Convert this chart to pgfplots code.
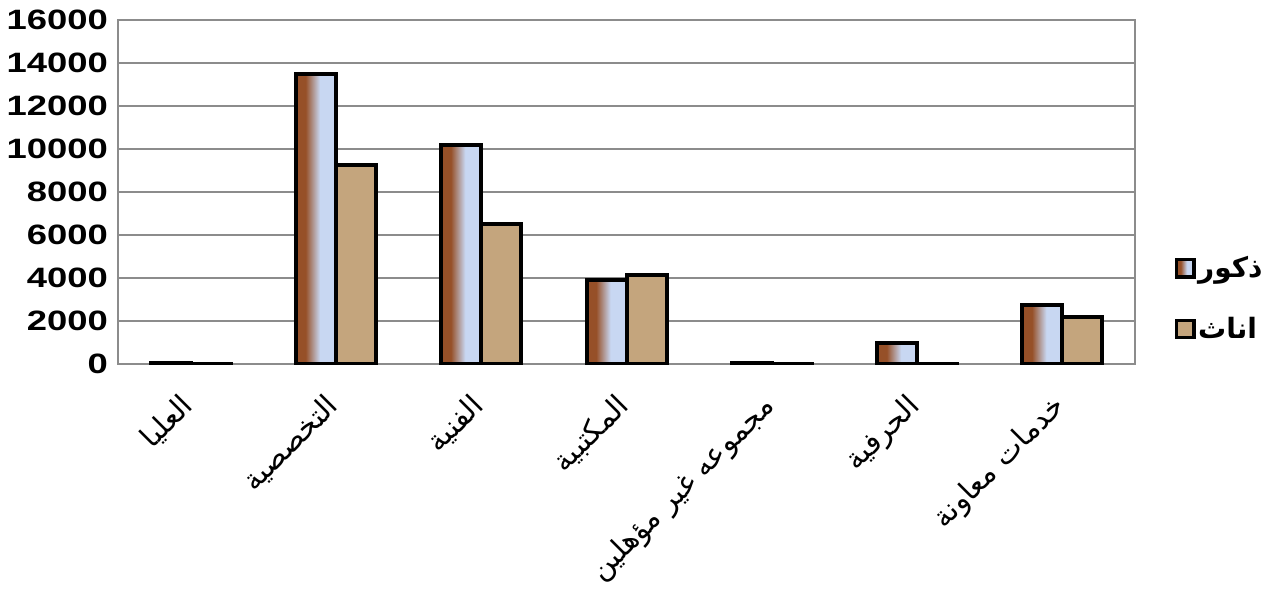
\documentclass[border=0pt]{standalone}
\usepackage{pgfplots}
\usepackage{pgfplotstable}
\pgfplotsset{compat=1.18}
\usepackage{fontspec}
\setmainfont{Liberation Sans}
\newfontfamily\tickfont{Liberation Sans}[FakeStretch=1.3]
\newfontfamily\arabicfont[Script=Arabic]{DejaVu Sans}
\TeXXeTstate=1
\definecolor{malebrown}{RGB}{150,80,40}
\definecolor{maleblue}{RGB}{200,215,242}
\definecolor{femtan}{RGB}{196,165,125}
\definecolor{gridgray}{RGB}{140,140,140}
\pgfdeclarehorizontalshading{maleshade}{100bp}{%
  color(0bp)=(malebrown); color(37bp)=(malebrown);
  color(46bp)=(malebrown!50!maleblue); color(55bp)=(maleblue);
  color(100bp)=(maleblue)}

% x = category index, male = ذكور, female = اناث
\pgfplotstableread{
x male female
0 40 20
1 13500 9250
2 10200 6500
3 3900 4150
4 50 20
5 1000 20
6 2750 2200
}\datatable

\begin{document}
\begin{tikzpicture}
\begin{axis}[
    scale only axis,
    width=762.75pt, height=258pt,
    ybar=0pt, bar width=30pt,
    xmin=-0.5, xmax=6.5,
    ymin=0, ymax=16000,
    ytick={0,2000,...,16000},
    scaled y ticks=false,
    xtick={0,...,6},
    xticklabels={{\beginR العليا\endR},{\beginR التخصصية\endR},{\beginR الفنية\endR},{\beginR المكتبية\endR},{\beginR مجموعه غير مؤهلين\endR},{\beginR الحرفية\endR},{\beginR خدمات معاونة\endR}},
    major tick length=0pt,
    ymajorgrids,
    grid style={gridgray, line width=1pt},
    axis line style={gridgray, line width=1pt},
    /pgf/number format/assume math mode=true,
    /pgf/number format/1000 sep={},
    yticklabel style={font=\tickfont\bfseries\fontsize{21}{24}\selectfont, xshift=-4pt},
    xticklabel style={xshift=-9pt, yshift=-16pt, rotate=45, anchor=north east, font=\arabicfont\fontsize{22}{25}\selectfont},
    legend style={at={(1.035,0.19)}, anchor=west, draw=none, fill=none,
        font=\arabicfont\bfseries\fontsize{21}{24}\selectfont, row sep=24pt},
    legend cell align=left,
    legend image code/.code={\draw[#1, line width=2.5pt] (0pt,-6.5pt) rectangle (13pt,6.5pt);},
    malebar/.style={draw=black, line width=3pt, shading=maleshade},
    fembar/.style={draw=black, line width=3pt, fill=femtan},
]
\pgfplotsinvokeforeach{0,...,6}{
  \addplot[malebar, bar shift=-15pt, forget plot, restrict x to domain=#1:#1]
    table[x=x, y=male]{\datatable};
}
\addplot[fembar, bar shift=15pt, forget plot] table[x=x, y=female]{\datatable};
\addlegendimage{malebar}
\addlegendentry{\beginR ذكور\endR}
\addlegendimage{fembar}
\addlegendentry{\beginR اناث\endR}
\end{axis}
\pgfresetboundingbox
\path[use as bounding box] (current axis.south west) ++(-88.5pt,-168.75pt) rectangle ++(960pt,441.75pt);
\end{tikzpicture}
\end{document}
